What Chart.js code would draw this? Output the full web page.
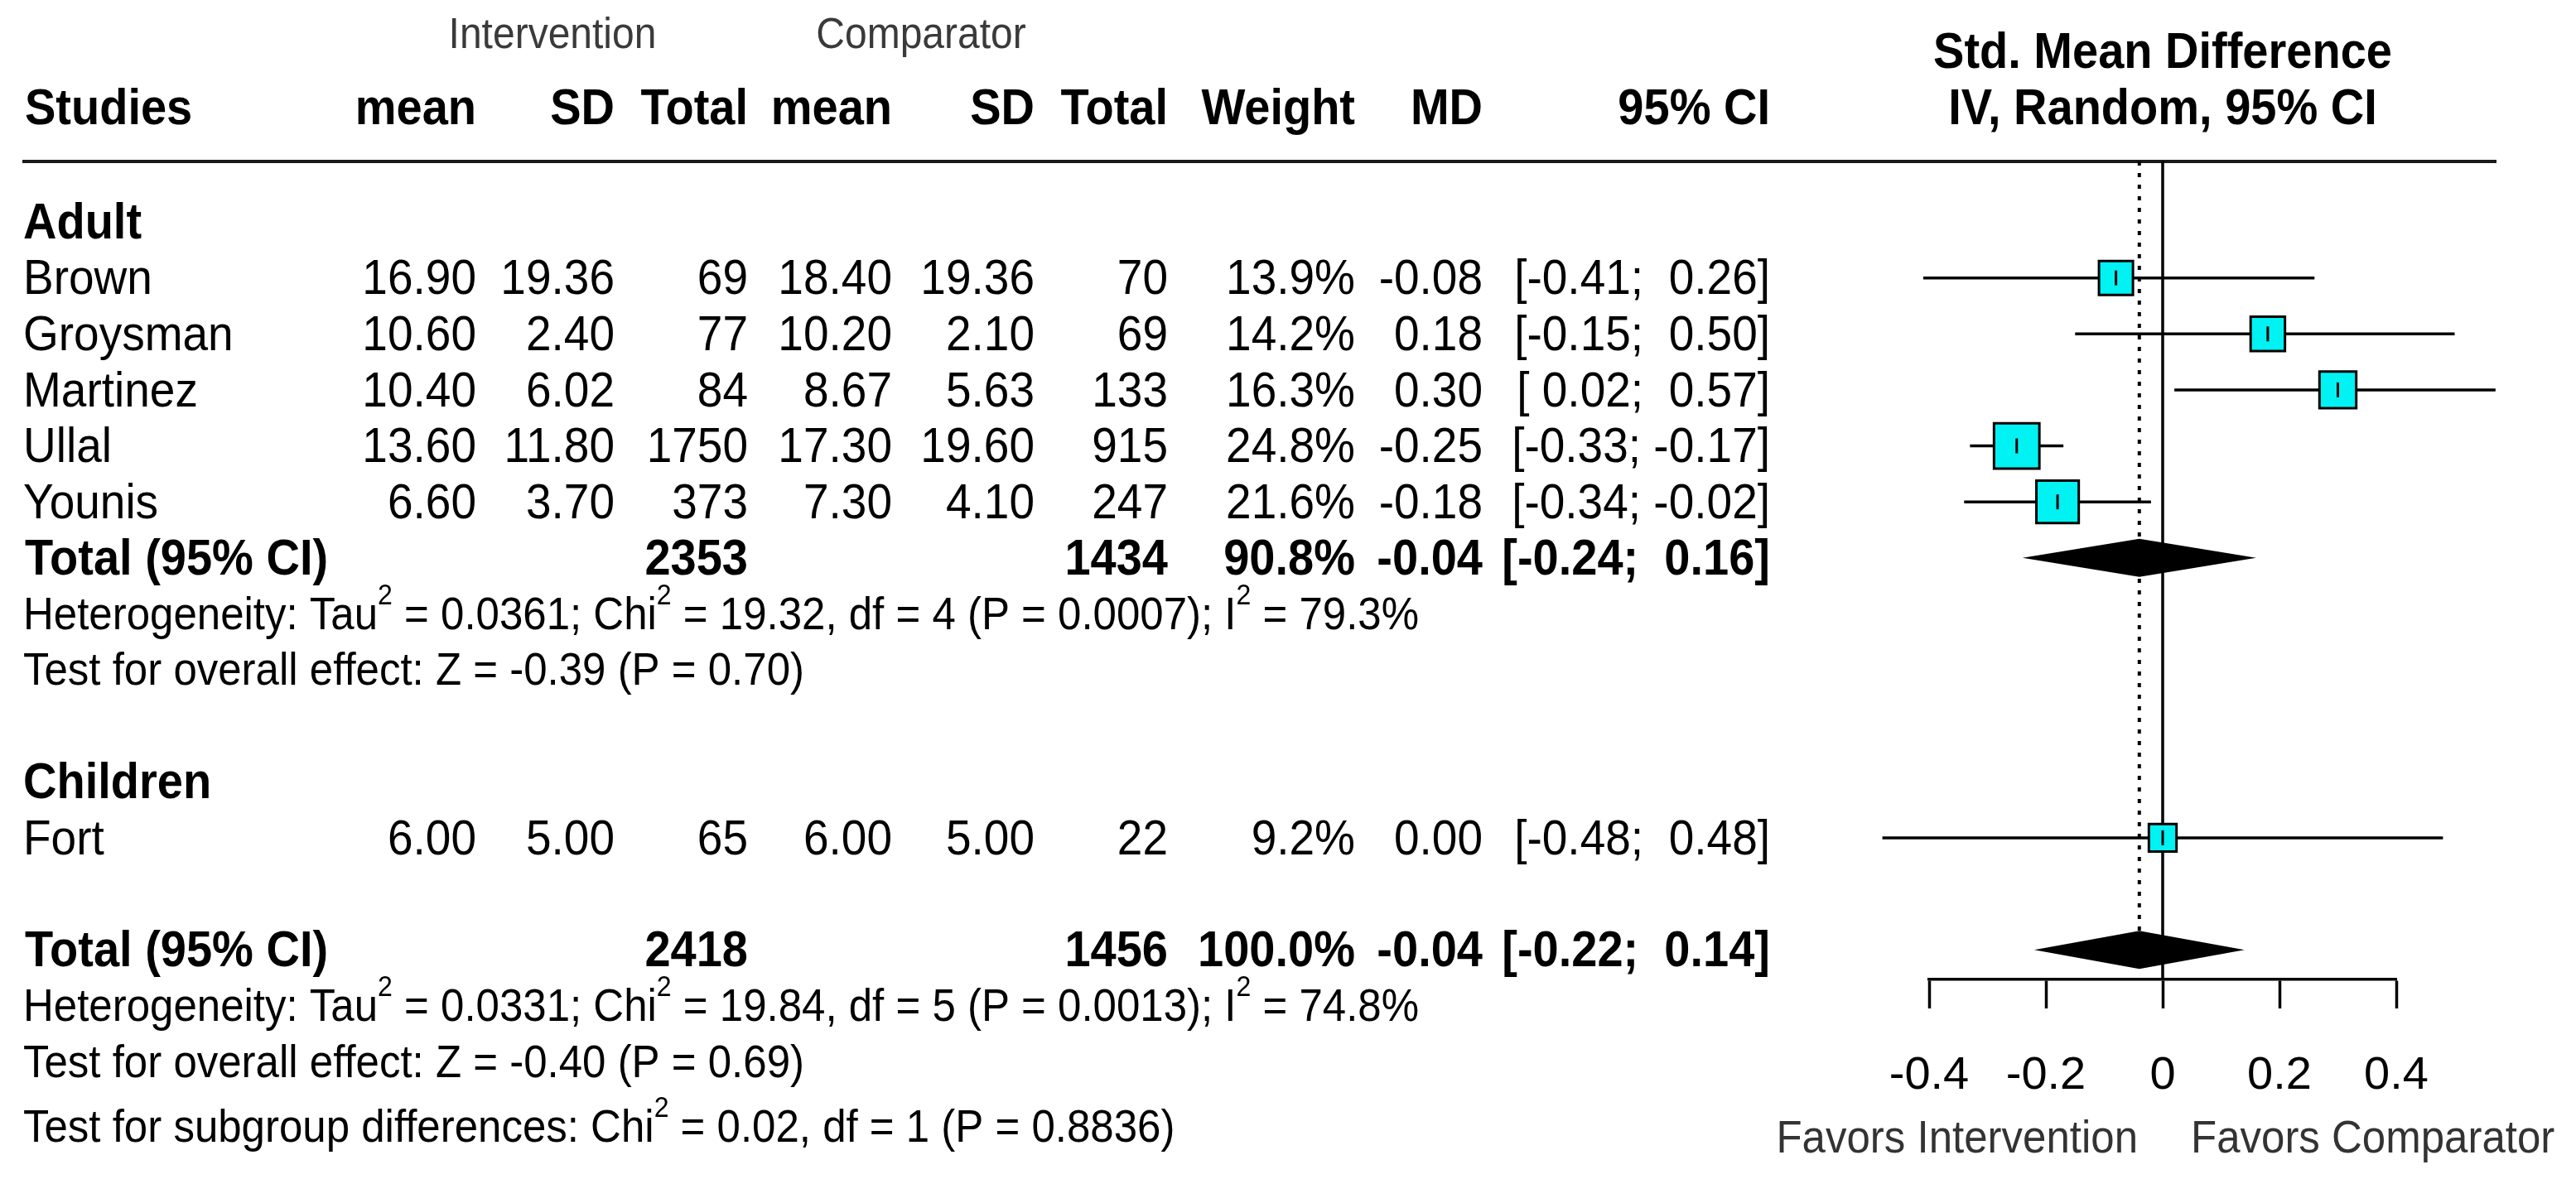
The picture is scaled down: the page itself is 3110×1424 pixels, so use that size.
<!DOCTYPE html>
<html lang="en">
<head>
<meta charset="UTF-8">
<title>Forest plot</title>
<script src="https://cdn.jsdelivr.net/npm/chart.js"></script>
<style>
  html, body { margin: 0; padding: 0; background: #fff; }
  #wrap { width: 3110px; height: 1424px; position: relative; }
</style>
</head>
<body>
<div id="wrap"><canvas id="forest"></canvas></div>
<script>
// study level data
const studies   = ['Brown', 'Groysman', 'Martinez', 'Ullal', 'Younis', 'Fort'];
const studyRows = [1, 2, 3, 4, 5, 11];
const intMean   = [16.90, 10.60, 10.40, 13.60, 6.60, 6.00];
const intSD     = [19.36, 2.40, 6.02, 11.80, 3.70, 5.00];
const intN      = [69, 77, 84, 1750, 373, 65];
const cmpMean   = [18.40, 10.20, 8.67, 17.30, 7.30, 6.00];
const cmpSD     = [19.36, 2.10, 5.63, 19.60, 4.10, 5.00];
const cmpN      = [70, 69, 133, 915, 247, 22];
const weight    = [13.9, 14.2, 16.3, 24.8, 21.6, 9.2];
const smd       = [-0.08, 0.18, 0.30, -0.25, -0.18, 0.00];
const ciLow     = [-0.41, -0.15, 0.02, -0.33, -0.34, -0.48];
const ciHigh    = [0.26, 0.50, 0.57, -0.17, -0.02, 0.48];

// subgroup headings
const groups    = ['Adult', 'Children'];
const groupRows = [0, 10];

// pooled estimates (subgroup adult, overall)
const pooledRows   = [6, 13];
const pooledIntN   = [2353, 2418];
const pooledCmpN   = [1434, 1456];
const pooledWeight = [90.8, 100.0];
const pooledSmd    = [-0.04, -0.04];
const pooledLow    = [-0.24, -0.22];
const pooledHigh   = [0.16, 0.14];

// statistics lines (^2 = superscript)
const statRows = [7, 8, 14, 15, 16.15];
const statText = [
  'Heterogeneity: Tau^2 = 0.0361; Chi^2 = 19.32, df = 4 (P = 0.0007); I^2 = 79.3%',
  'Test for overall effect: Z = -0.39 (P = 0.70)',
  'Heterogeneity: Tau^2 = 0.0331; Chi^2 = 19.84, df = 5 (P = 0.0013); I^2 = 74.8%',
  'Test for overall effect: Z = -0.40 (P = 0.69)',
  'Test for subgroup differences: Chi^2 = 0.02, df = 1 (P = 0.8836)'
];

const tickValues = [-0.4, -0.2, 0, 0.2, 0.4];
const tickLabels = ['-0.4', '-0.2', '0', '0.2', '0.4'];

const colHeads = ['mean', 'SD', 'Total', 'mean', 'SD', 'Total', 'Weight', 'MD', '95% CI'];

// layout
const FONT = "'Liberation Sans', Arial, sans-serif";
const colRight = [575, 742, 903, 1077, 1249, 1410, 1636, 1790, 2137];
const leftX = 28;
const yMin = -1.08, yMax = 13.53;
const STRETCH = 1.08; // glyphs in the picture are a little taller than wide

function fmtCI(lo, hi) {
  const f = v => (v < 0 ? '' : ' ') + v.toFixed(2);
  return '[' + f(lo) + '; ' + f(hi) + ']';
}

function put(ctx, s, x, yc, align, size, bold, color) {
  ctx.save();
  ctx.font = (bold ? 'bold ' : '') + size + 'px ' + FONT;
  ctx.fillStyle = color || '#000';
  ctx.textAlign = align;
  ctx.textBaseline = 'alphabetic';
  ctx.translate(x, yc + 0.36 * size);
  ctx.scale(1, STRETCH);
  ctx.fillText(s, 0, 0);
  ctx.restore();
}

function putRich(ctx, s, x, yc, size) {
  const parts = s.split('^2');
  ctx.save();
  ctx.fillStyle = '#000';
  ctx.textAlign = 'left';
  ctx.textBaseline = 'alphabetic';
  ctx.translate(x, yc + 0.36 * size);
  ctx.scale(1, STRETCH);
  let cx = 0;
  parts.forEach((p, i) => {
    ctx.font = size + 'px ' + FONT;
    ctx.fillText(p, cx, 0);
    cx += ctx.measureText(p).width;
    if (i < parts.length - 1) {
      ctx.font = Math.round(size * 0.62) + 'px ' + FONT;
      ctx.fillText('2', cx, -0.54 * size);
      cx += ctx.measureText('2').width;
    }
  });
  ctx.restore();
}

const forestText = {
  id: 'forestText',
  beforeDatasetsDraw(chart) {
    const ctx = chart.ctx;
    const top = chart.chartArea.top;
    ctx.save();
    ctx.strokeStyle = '#1a1a1a';
    ctx.lineWidth = 4;
    ctx.beginPath();
    ctx.moveTo(27, top);
    ctx.lineTo(3014, top);
    ctx.stroke();
    ctx.restore();
  },
  afterDatasetsDraw(chart) {
    const ctx = chart.ctx;
    const xs = chart.scales.x, ys = chart.scales.y;
    ctx.save();
    // pooled diamonds
    ctx.fillStyle = '#000';
    pooledRows.forEach((r, i) => {
      const yc = ys.getPixelForValue(r);
      const h = ys.getPixelForValue(r + 0.34) - yc;
      ctx.beginPath();
      ctx.moveTo(xs.getPixelForValue(pooledLow[i]), yc);
      ctx.lineTo(xs.getPixelForValue(pooledSmd[i]), yc - h);
      ctx.lineTo(xs.getPixelForValue(pooledHigh[i]), yc);
      ctx.lineTo(xs.getPixelForValue(pooledSmd[i]), yc + h);
      ctx.closePath();
      ctx.fill();
    });
    ctx.restore();
  },
  afterDraw(chart) {
    const ctx = chart.ctx;
    const xs = chart.scales.x, ys = chart.scales.y;
    const row = r => ys.getPixelForValue(r);
    // column headers
    put(ctx, 'Intervention', 667, row(-3.36), 'center', 48, false, '#3a3a3a');
    put(ctx, 'Comparator', 1112, row(-3.36), 'center', 48, false, '#3a3a3a');
    put(ctx, 'Studies', leftX + 2, row(-2.05), 'left', 56, true);
    colHeads.forEach((h, i) => put(ctx, h, colRight[i], row(-2.05), 'right', 56, true));
    const x0 = xs.getPixelForValue(0);
    put(ctx, 'Std. Mean Difference', x0, row(-3.05), 'center', 56, true);
    put(ctx, 'IV, Random, 95% CI', x0, row(-2.05), 'center', 56, true);

    groups.forEach((g, i) => put(ctx, g, leftX, row(groupRows[i]), 'left', 56, true));

    studies.forEach((s, i) => {
      const y = row(studyRows[i]);
      const cells = [intMean[i].toFixed(2), intSD[i].toFixed(2), String(intN[i]),
        cmpMean[i].toFixed(2), cmpSD[i].toFixed(2), String(cmpN[i]),
        weight[i].toFixed(1) + '%', smd[i].toFixed(2), fmtCI(ciLow[i], ciHigh[i])];
      put(ctx, s, leftX, y, 'left', 55, false);
      cells.forEach((c, j) => put(ctx, c, colRight[j], y, 'right', 55, false));
    });

    pooledRows.forEach((r, i) => {
      const y = row(r);
      put(ctx, 'Total (95% CI)', leftX + 2, y, 'left', 56, true);
      put(ctx, String(pooledIntN[i]), colRight[2], y, 'right', 56, true);
      put(ctx, String(pooledCmpN[i]), colRight[5], y, 'right', 56, true);
      put(ctx, pooledWeight[i].toFixed(1) + '%', colRight[6], y, 'right', 56, true);
      put(ctx, pooledSmd[i].toFixed(2), colRight[7], y, 'right', 56, true);
      put(ctx, fmtCI(pooledLow[i], pooledHigh[i]), colRight[8], y, 'right', 56, true);
    });

    statRows.forEach((r, i) => putRich(ctx, statText[i], leftX, row(r), 51));

    put(ctx, 'Favors Intervention', x0 - 30, row(16.35), 'right', 51, false, '#333');
    put(ctx, 'Favors Comparator', x0 + 34, row(16.35), 'left', 51, false, '#333');
  }
};

const ciSets = studies.map((s, i) => ({
  label: s + ' CI',
  data: [{ x: ciLow[i], y: studyRows[i] }, { x: ciHigh[i], y: studyRows[i] }],
  showLine: true,
  borderColor: '#000',
  borderWidth: 3.5,
  pointRadius: 0,
  clip: false,
  order: 4
}));

new Chart(document.getElementById('forest'), {
  type: 'scatter',
  data: {
    datasets: [
      {
        label: 'no effect',
        data: [{ x: 0, y: yMin }, { x: 0, y: yMax }],
        showLine: true, borderColor: '#000', borderWidth: 3.5, pointRadius: 0, clip: false, order: 6
      },
      {
        label: 'pooled estimate',
        data: [{ x: pooledSmd[1], y: yMin }, { x: pooledSmd[1], y: pooledRows[1] - 0.34 }],
        showLine: true, borderColor: '#000', borderWidth: 4, borderDash: [5, 9],
        pointRadius: 0, clip: false, order: 5
      },
      ...ciSets,
      {
        label: 'SMD',
        data: studies.map((s, i) => ({ x: smd[i], y: studyRows[i] })),
        pointStyle: 'rect',
        pointRadius: weight.map(w => 11 * Math.sqrt(w) / Math.SQRT2),
        pointBackgroundColor: '#00f2f2',
        pointBorderColor: '#000',
        pointBorderWidth: 3,
        clip: false,
        order: 2
      },
      {
        label: 'SMD mark',
        data: studies.map((s, i) => ({ x: smd[i], y: studyRows[i] })),
        pointStyle: 'line',
        pointRotation: 90,
        pointRadius: 9,
        pointBorderColor: '#000',
        pointBorderWidth: 3,
        clip: false,
        order: 1
      }
    ]
  },
  options: {
    responsive: true,
    maintainAspectRatio: false,
    animation: false,
    events: [],
    layout: { padding: { left: 2329, right: 217, top: 195, bottom: 0 } },
    plugins: { legend: { display: false }, tooltip: { enabled: false } },
    scales: {
      x: {
        type: 'linear',
        min: -0.4,
        max: 0.4,
        afterBuildTicks: s => { s.ticks = tickValues.map(v => ({ value: v })); },
        afterFit: s => { s.height = 241; },
        grid: { drawOnChartArea: false, drawTicks: true, tickLength: 35, tickWidth: 3.5, tickColor: '#000' },
        border: { display: true, color: '#000', width: 3.5 },
        ticks: {
          color: '#000',
          font: { family: FONT, size: 56 },
          padding: 48,
          maxRotation: 0,
          autoSkip: false,
          callback: (v, i) => tickLabels[i]
        }
      },
      y: { type: 'linear', reverse: true, min: yMin, max: yMax, display: false }
    }
  },
  plugins: [forestText]
});
</script>
</body>
</html>
